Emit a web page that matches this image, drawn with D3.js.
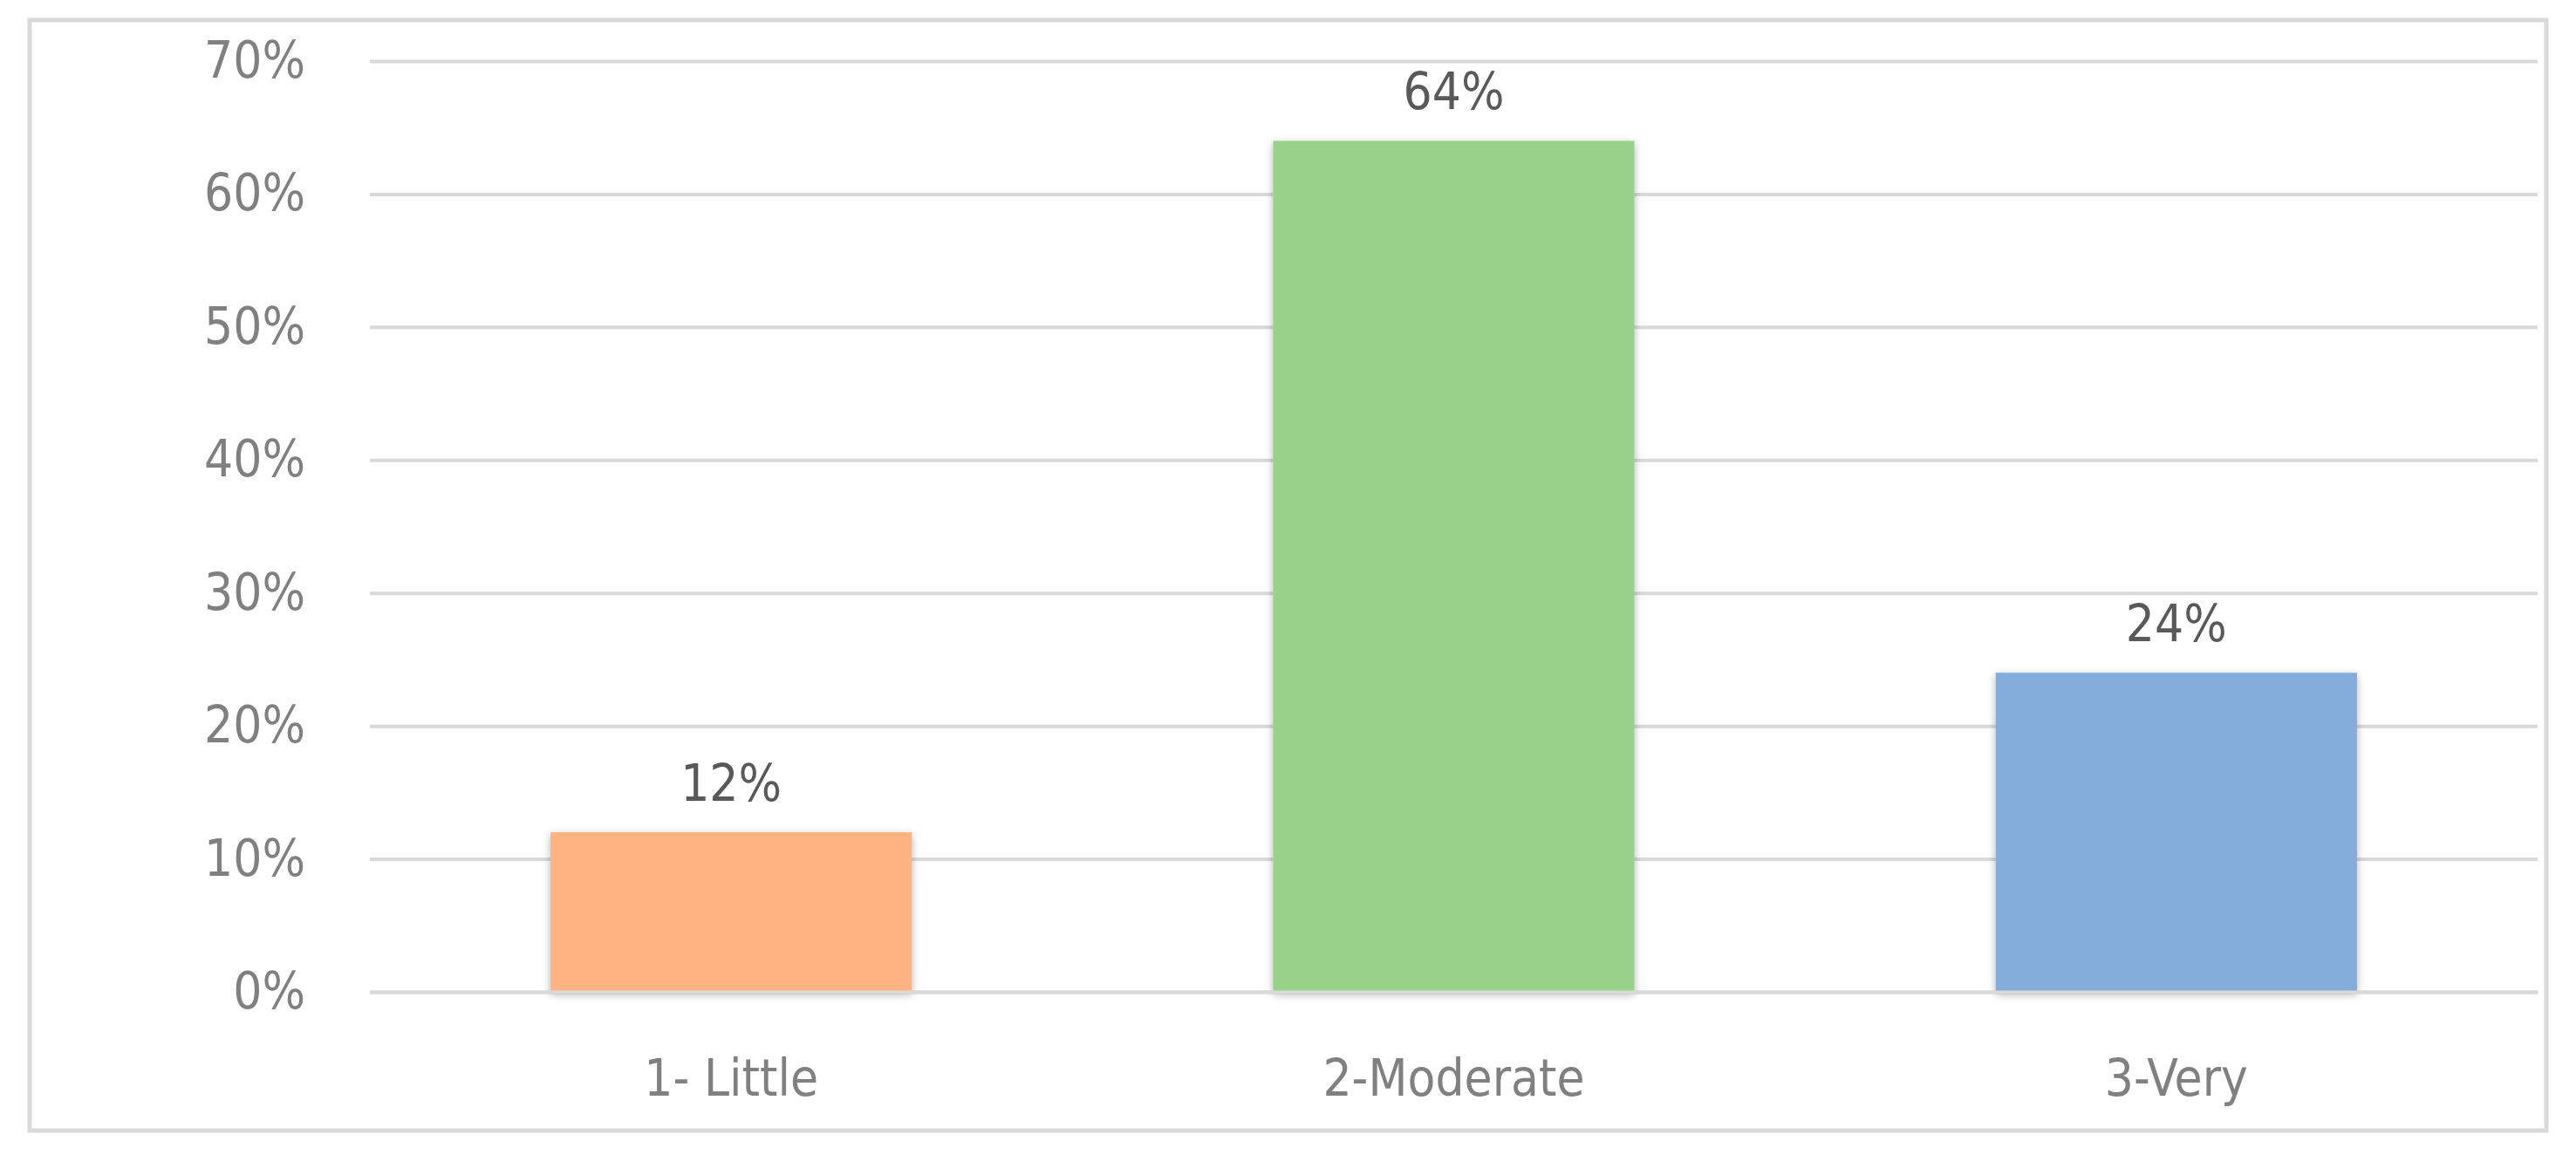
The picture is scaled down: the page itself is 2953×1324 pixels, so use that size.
<!DOCTYPE html>
<html><head><meta charset="utf-8">
<script src="https://cdn.jsdelivr.net/npm/d3@7"></script>
<style>body{margin:0;background:#fff}</style></head>
<body><svg id="c" width="2953" height="1324"></svg>
<script>
const categories = ["1- Little", "2-Moderate", "3-Very"];
const values = [0.12, 0.64, 0.24];
const colors = ["#FFB381", "#98D28A", "#84ADDC"];
const yTicks = [0, 0.1, 0.2, 0.3, 0.4, 0.5, 0.6, 0.7];

const svg = d3.select("#c");
const font = "'Liberation Sans Narrow','DejaVu Sans Condensed',sans-serif";
const m = {l: 424, r: 2909, t: 70, b: 1137};
svg.append("rect").attr("x",34).attr("y",23).attr("width",2885).attr("height",1273)
  .attr("fill","#fff").attr("stroke","#d9d9d9").attr("stroke-width",5);

const defs = svg.append("defs");
const f = defs.append("filter").attr("id","sh").attr("x","-10%").attr("y","-10%").attr("width","120%").attr("height","120%");
f.append("feDropShadow").attr("dx",0).attr("dy",3).attr("stdDeviation",5).attr("flood-color","#000").attr("flood-opacity",0.3);

const x = d3.scaleBand().domain(categories).range([m.l, m.r]).paddingInner(0.5).paddingOuter(0.25);
const y = d3.scaleLinear().domain([0, 0.7]).range([m.b, m.t]);

const yAxis = svg.append("g").attr("transform",`translate(${m.l},0)`)
  .call(d3.axisLeft(y).tickValues(yTicks).tickFormat(d3.format(".0%")).tickSize(-(m.r-m.l)).tickPadding(74));
yAxis.select(".domain").remove();
yAxis.selectAll("line").attr("stroke","#d9d9d9").attr("stroke-width",4);
yAxis.selectAll("text").attr("fill","#808080").style("font-family",font).style("font-size","58px");

svg.append("g").selectAll("rect").data(values).join("rect")
  .attr("x",(d,i)=>x(categories[i])).attr("width",x.bandwidth())
  .attr("y",d=>y(d)).attr("height",d=>y(0)-y(d))
  .attr("fill",(d,i)=>colors[i]).attr("filter","url(#sh)");

svg.append("g").selectAll("text").data(values).join("text")
  .attr("x",(d,i)=>x(categories[i])+x.bandwidth()/2).attr("y",d=>y(d)-36)
  .attr("text-anchor","middle").attr("fill","#595959")
  .style("font-family",font).style("font-size","58px").text(d=>d3.format(".0%")(d));

const xAxis = svg.append("g").attr("transform",`translate(0,${m.b})`)
  .call(d3.axisBottom(x).tickSize(0).tickPadding(78));
xAxis.select(".domain").attr("stroke","#d9d9d9").attr("stroke-width",4);
xAxis.selectAll("text").attr("fill","#808080").style("font-family",font).style("font-size","58px");
</script></body></html>
